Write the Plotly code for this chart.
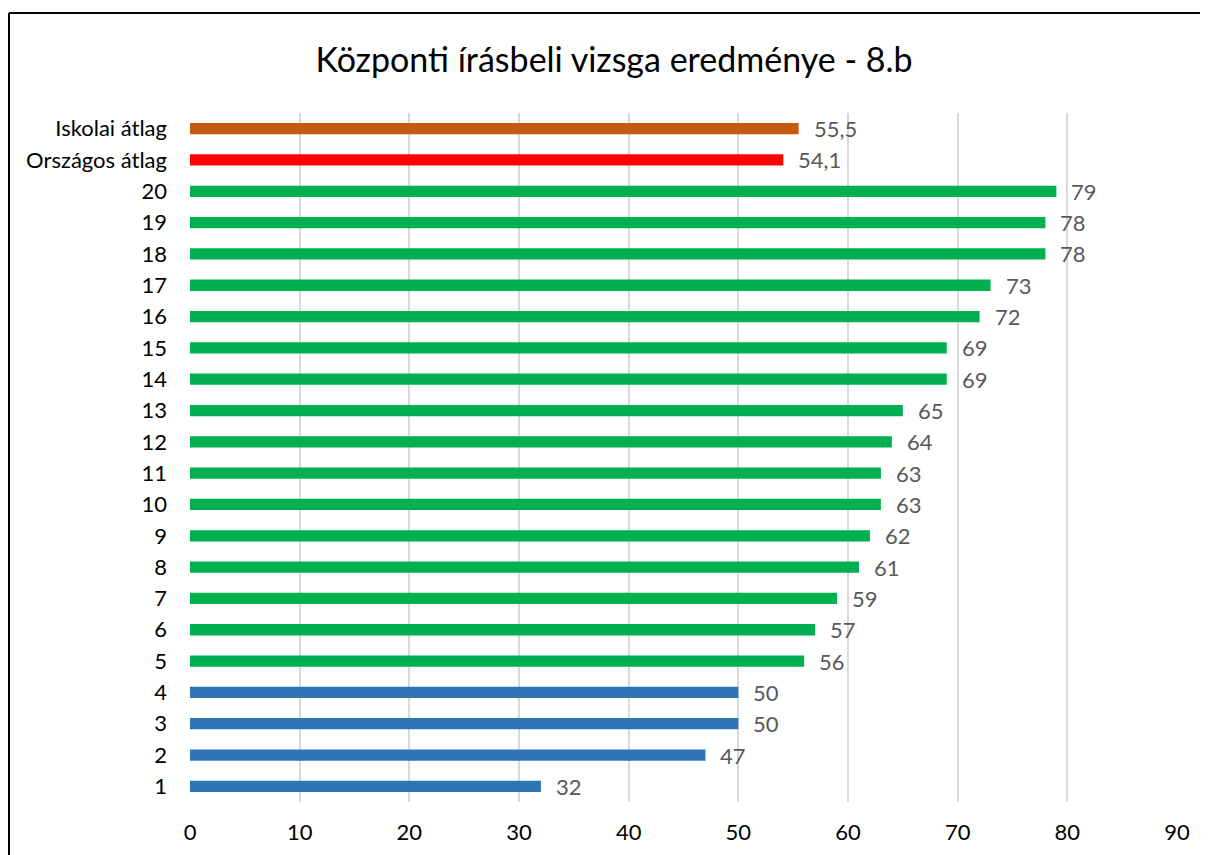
import plotly.graph_objects as go

categories = ["1", "2", "3", "4", "5", "6", "7", "8", "9", "10", "11", "12", "13", "14",
              "15", "16", "17", "18", "19", "20", "Országos átlag", "Iskolai átlag"]
values = [32, 47, 50, 50, 56, 57, 59, 61, 62, 63, 63, 64, 65, 69, 69, 72, 73, 78, 78, 79, 54.1, 55.5]
groups = ["low"] * 4 + ["high"] * 16 + ["national", "school"]
x_ticks = [0, 10, 20, 30, 40, 50, 60, 70, 80, 90]
title_text = "Központi írásbeli vizsga eredménye - 8.b"

group_colors = {"low": "#2E75B6", "high": "#00B050", "national": "#FF0000", "school": "#C55A11"}
colors = [group_colors[g] for g in groups]
labels = [(f"{v:g}").replace(".", ",") for v in values]

FONT = "Lato"
FS = 22

W, H = 1200, 847  # page has 8px body margin
fig = go.Figure()
fig.add_trace(go.Bar(
    x=values, y=categories, orientation="h",
    marker=dict(color=colors, line=dict(width=0)),
    hoverinfo="skip",
))

for i, (v, t) in enumerate(zip(values, labels)):
    fig.add_annotation(x=v, y=i, xref="x", yref="y", text=t, showarrow=False,
                       xanchor="left", yanchor="middle", xshift=13,
                       font=dict(family=FONT, size=FS, color="#595959"))

# chart border (left and top edges visible in the crop)
pl, pr, pt, pb = 182, 31, 105, 53
pw, ph = W - pl - pr, H - pt - pb
bx = (1 - pl) / pw
by = (H - pb - 5) / ph
fig.add_shape(type="line", xref="paper", yref="paper", x0=bx, x1=bx,
              y0=-0.2, y1=by, line=dict(color="black", width=2))
fig.add_shape(type="line", xref="paper", yref="paper", x0=bx, x1=1.1,
              y0=by, y1=by, line=dict(color="black", width=2))

fig.update_layout(
    width=W, height=H,
    margin=dict(l=pl, r=pr, t=pt, b=pb, autoexpand=False),
    paper_bgcolor="white", plot_bgcolor="white",
    showlegend=False,
    bargap=0.64,
    title=dict(text=title_text, x=(614 - 8) / W, xref="container", xanchor="center",
               y=1 - 52 / H, yref="container", yanchor="middle",
               font=dict(family=FONT, size=34, color="black")),
    font=dict(family=FONT, size=FS, color="black"),
)
fig.update_xaxes(range=[0, 90], tickvals=x_ticks, showgrid=True, gridcolor="#D9D9D9",
                 gridwidth=1.6, zeroline=False, showline=False, ticks="", automargin=False,
                 ticklabelstandoff=15, tickfont=dict(family=FONT, size=FS, color="black"))
fig.update_yaxes(categoryorder="array", categoryarray=categories, showgrid=False,
                 zeroline=False, showline=False, ticks="", ticklabelstandoff=22, automargin=False,
                 tickfont=dict(family=FONT, size=FS, color="black"))

fig.write_html("out.html")
